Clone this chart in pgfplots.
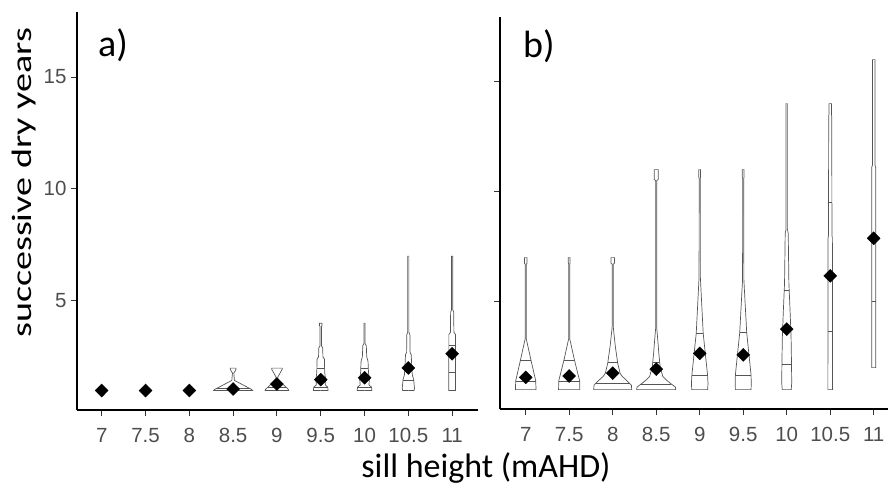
\documentclass[border=0pt]{standalone}
\usepackage{fontspec}
\setmainfont{Carlito}
\newfontfamily\arialf{Liberation Sans}
\usepackage{pgfplots}
\usepackage{pgfplotstable}
\pgfplotsset{compat=1.18}
\definecolor{tickgray}{HTML}{4D4D4D}
\definecolor{tickline}{HTML}{333333}
\definecolor{vgray}{HTML}{555555}

\pgfplotsset{
  panel/.style={
    scale only axis, anchor=south west,
    axis x line=bottom, axis y line=left,
    axis line style={-, line width=1.1pt, black},
    xtick={1,2,3,4,5,6,7,8,9},
    xticklabels={7,7.5,8,8.5,9,9.5,10,10.5,11},
    ytick={5,10,15},
    tick align=outside, major tick length=6pt,
    tick style={tickline, line width=0.9pt},
    /pgf/number format/assume math mode=true,
    ticklabel style={font=\arialf\fontsize{20.5}{20.5}\selectfont, text=tickgray},
    xticklabel style={yshift=-9pt},
    yticklabel style={xshift=-1pt},
    unbounded coords=jump,
  },
  vl/.style={draw=vgray, line width=0.7pt, no markers, forget plot},
  mn/.style={only marks, mark=diamond*, mark size=6.5pt,
    mark options={xscale=1.33, fill=black, draw=black}},
}

\newcommand{\violin}[2]{%
  \addplot[vl] table[x expr={#1-\thisrow{w}}, y=y] {#2};
  \addplot[vl] table[x expr={#1+\thisrow{w}}, y=y] {#2};
}

% ---------------- panel a profiles (y, half width) ----------------
\pgfplotstableread{
y w
1.0 0
1.0 0.445
1.05 0.42
1.45 0.03
1.78 0.015
1.85 0.04
1.95 0.065
2.0 0.065
2.0 0
}\VaFour
\pgfplotstableread{
y w
1.0 0
1.0 0.27
1.05 0.26
1.5 0.02
1.6 0.02
1.95 0.12
2.0 0.12
2.0 0
}\VaFive
\pgfplotstableread{
y w
1.0 0
1.0 0.167
1.15 0.16
1.25 0.10
1.5 0.11
1.8 0.09
2.4 0.085
2.5 0.05
2.9 0.045
3.0 0.015
3.85 0.015
3.9 0.03
4.0 0.03
4.0 0
}\VaSix
\pgfplotstableread{
y w
1.0 0
1.0 0.167
1.15 0.16
1.25 0.10
1.5 0.11
1.8 0.09
2.3 0.08
2.5 0.05
3.0 0.04
3.1 0.012
4.0 0.012
4.0 0
}\VaSeven
\pgfplotstableread{
y w
1.0 0
1.0 0.13
1.1 0.14
1.5 0.12
1.7 0.09
2.0 0.08
2.6 0.065
2.7 0.04
3.5 0.035
3.6 0.012
7.0 0.012
7.0 0
}\VaEight
\pgfplotstableread{
y w
1.0 0
1.0 0.077
3.5 0.075
3.6 0.04
4.5 0.035
4.6 0.015
7.0 0.015
7.0 0
}\VaNine
\pgfplotstableread{
x y
3.61 1.08
4.39 1.08
nan nan
4.793 1.15
5.207 1.15
nan nan
5.84 1.15
6.16 1.15
nan nan
5.912 2.0
6.088 2.0
nan nan
6.84 1.15
7.16 1.15
nan nan
6.914 2.0
7.086 2.0
nan nan
7.877 1.45
8.123 1.45
nan nan
7.92 2.0
8.08 2.0
nan nan
8.923 1.8
9.077 1.8
nan nan
8.925 3.0
9.075 3.0
}\QA

% ---------------- panel b profiles ----------------
\pgfplotstableread{
y w
1.0 0
1.0 0.237
1.4 0.23
2.35 0.12
3.2 0.025
3.3 0.012
6.7 0.012
6.75 0.03
7.0 0.03
7.0 0
}\VbOne
\pgfplotstableread{
y w
1.0 0
1.0 0.245
1.4 0.24
2.35 0.12
3.2 0.025
3.3 0.012
6.7 0.012
6.75 0.02
7.0 0.02
7.0 0
}\VbTwo
\pgfplotstableread{
y w
1.0 0
1.0 0.437
1.2 0.43
1.3 0.38
1.44 0.31
1.6 0.22
1.74 0.17
2.2 0.115
2.97 0.06
3.7 0.02
3.9 0.012
6.7 0.012
6.75 0.04
7.0 0.04
7.0 0
}\VbThree
\pgfplotstableread{
y w
1.0 0
1.0 0.45
1.12 0.44
1.25 0.35
1.44 0.23
1.6 0.15
2.05 0.09
2.65 0.06
3.4 0.03
3.8 0.012
10.5 0.012
10.55 0.045
11.0 0.045
11.0 0
}\VbFour
\pgfplotstableread{
y w
1.0 0
1.0 0.184
1.3 0.19
1.67 0.18
3.56 0.08
6.1 0.015
10.6 0.012
10.65 0.02
11.0 0.02
11.0 0
}\VbFive
\pgfplotstableread{
y w
1.0 0
1.0 0.18
1.3 0.185
1.67 0.18
3.6 0.08
6.0 0.015
10.6 0.012
10.65 0.02
11.0 0.02
11.0 0
}\VbSix
\pgfplotstableread{
y w
1.0 0
1.0 0.103
1.3 0.115
2.2 0.11
3.4 0.1
4.6 0.077
5.84 0.05
8.1 0.035
8.3 0.015
14.0 0.015
14.0 0
}\VbSeven
\pgfplotstableread{
y w
1.0 0
1.0 0.054
7.9 0.05
8.0 0.04
13.4 0.035
13.5 0.03
14.0 0.03
14.0 0
}\VbEight
\pgfplotstableread{
y w
2.0 0
2.0 0.046
11.1 0.046
11.2 0.03
16.0 0.03
16.0 0
}\VbNine
\pgfplotstableread{
x y
0.77 1.36
1.23 1.36
nan nan
0.88 2.35
1.12 2.35
nan nan
1.76 1.36
2.24 1.36
nan nan
1.88 2.35
2.12 2.35
nan nan
2.61 1.29
3.39 1.29
nan nan
2.887 2.23
3.113 2.23
nan nan
3.656 1.26
4.344 1.26
nan nan
3.919 2.23
4.081 2.23
nan nan
4.82 1.67
5.18 1.67
nan nan
4.92 3.56
5.08 3.56
nan nan
5.82 1.67
6.18 1.67
nan nan
5.92 3.6
6.08 3.6
nan nan
6.89 2.15
7.11 2.15
nan nan
6.944 5.49
7.056 5.49
nan nan
7.947 3.67
8.053 3.67
nan nan
7.96 9.5
8.04 9.5
nan nan
8.954 5.03
9.046 5.03
}\QB

\begin{document}
\begin{tikzpicture}
\useasboundingbox (0,0) rectangle (888pt,485pt);

\begin{axis}[panel, at={(77pt,75pt)}, width=401pt, height=398pt,
  xmin=0.436, xmax=9.59, ymin=0.13, ymax=17.9]
  \violin{4}{\VaFour}
  \violin{5}{\VaFive}
  \violin{6}{\VaSix}
  \violin{7}{\VaSeven}
  \violin{8}{\VaEight}
  \violin{9}{\VaNine}
  \addplot[vl] table[x=x, y=y] {\QA};
  \addplot[mn] coordinates {(1,1.0) (2,1.0) (3,1.0) (4,1.07) (5,1.29) (6,1.49) (7,1.57) (8,2.01) (9,2.64)};
\end{axis}

\begin{axis}[panel, at={(500pt,76pt)}, width=399.8pt, height=392.3pt,
  xmin=0.409, xmax=9.6, ymin=0.12, ymax=17.95, yticklabels={,,}]
  \violin{1}{\VbOne}
  \violin{2}{\VbTwo}
  \violin{3}{\VbThree}
  \violin{4}{\VbFour}
  \violin{5}{\VbFive}
  \violin{6}{\VbSix}
  \violin{7}{\VbSeven}
  \violin{8}{\VbEight}
  \violin{9}{\VbNine}
  \addplot[vl] table[x=x, y=y] {\QB};
  \addplot[mn] coordinates {(1,1.56) (2,1.62) (3,1.75) (4,1.93) (5,2.65) (6,2.58) (7,3.75) (8,6.17) (9,7.88)};
\end{axis}

\node[anchor=base west, font=\fontsize{38}{38}\selectfont, inner sep=0pt] at (98pt,428pt) {a)};
\node[anchor=base west, font=\fontsize{38}{38}\selectfont, inner sep=0pt] at (523pt,427pt) {b)};
\node[anchor=base, font=\fontsize{34}{34}\selectfont, inner sep=0pt] at (486pt,8pt) {sill height (mAHD)};
\node[anchor=center, rotate=90, font=\fontsize{28}{28}\selectfont, inner sep=0pt] at (24pt,302pt) {\scalebox{1.36}[1]{successive dry years}};
\end{tikzpicture}
\end{document}
